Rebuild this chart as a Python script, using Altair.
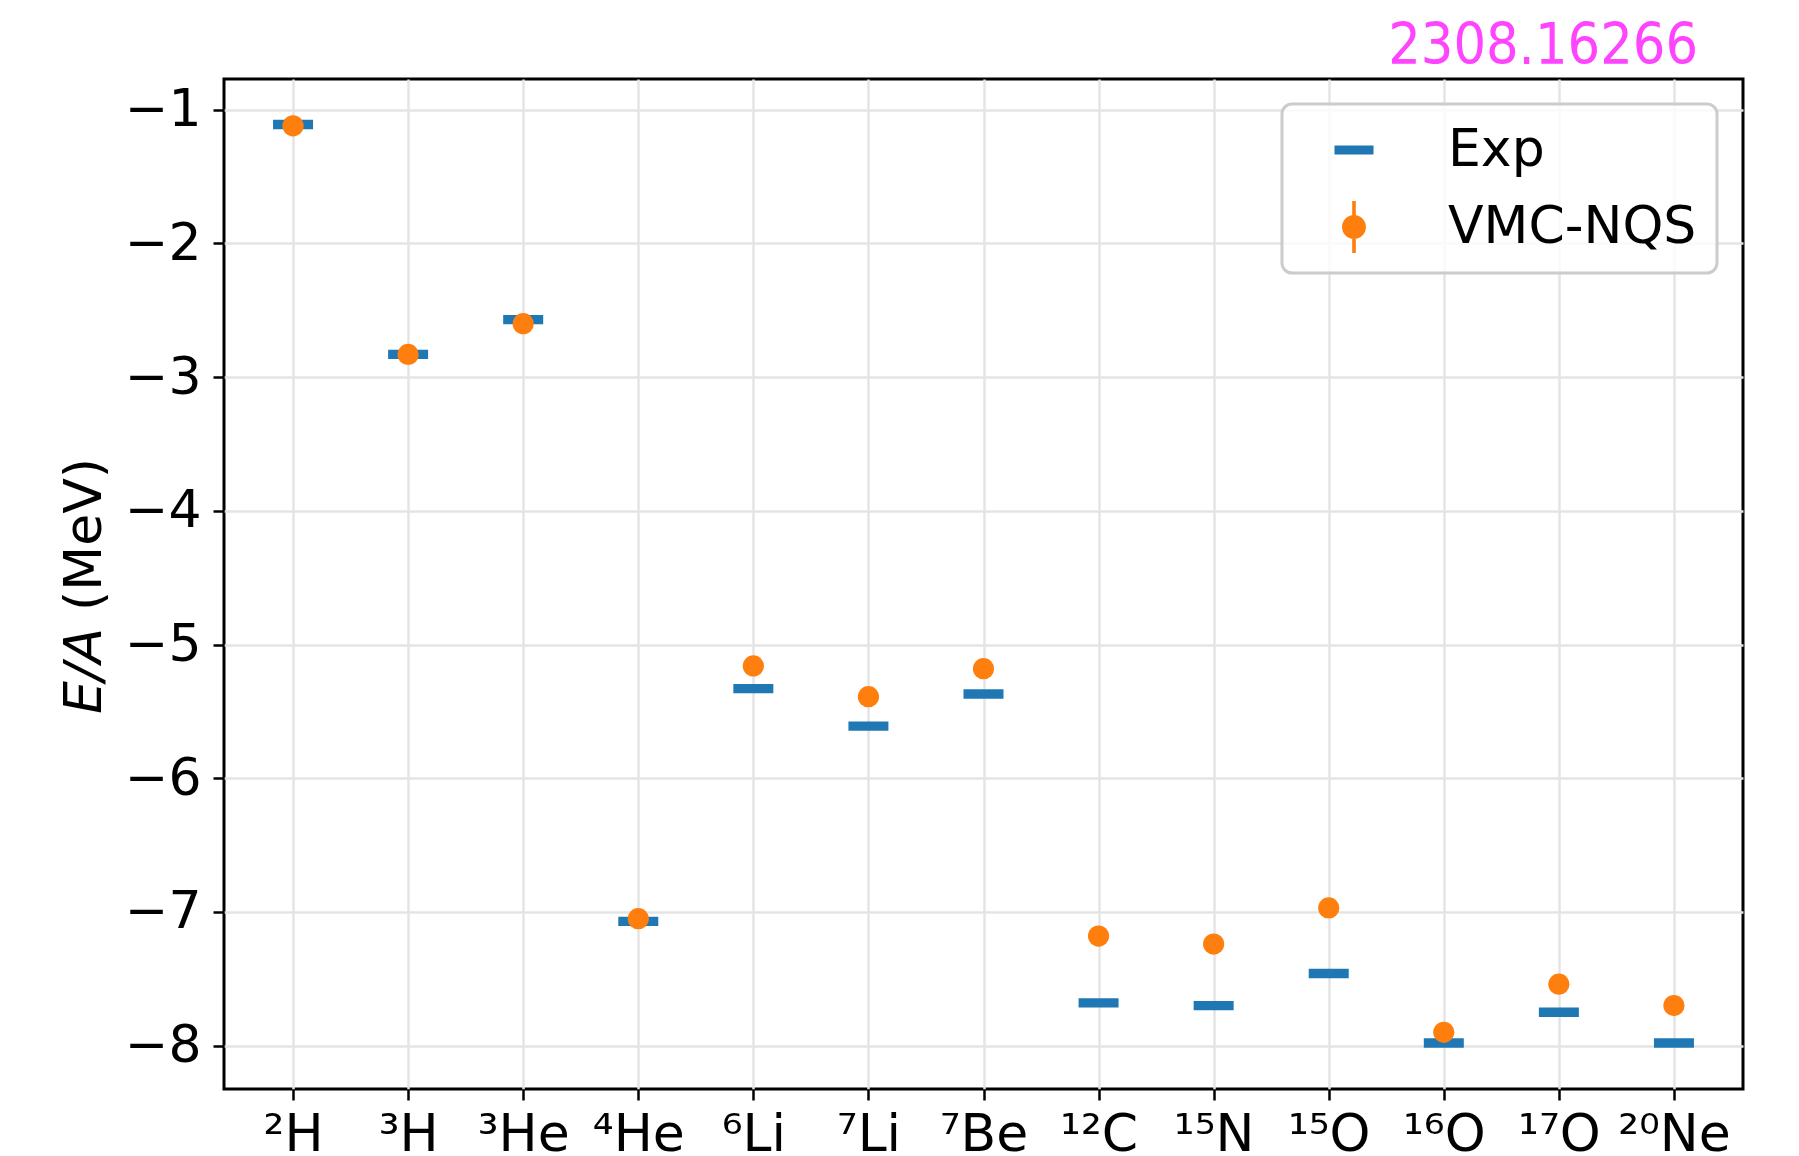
import altair as alt
import pandas as pd

# Nuclei along the x axis and energy per nucleon (MeV)
nuclei = ["²H", "³H", "³He", "⁴He", "⁶Li", "⁷Li", "⁷Be",
          "¹²C", "¹⁵N", "¹⁵O", "¹⁶O", "¹⁷O", "²⁰Ne"]
exp_energy = [-1.11, -2.83, -2.57, -7.07, -5.33, -5.61, -5.37,
              -7.68, -7.70, -7.46, -7.98, -7.75, -7.98]
vmc_energy = [-1.12, -2.83, -2.60, -7.05, -5.16, -5.39, -5.18,
              -7.18, -7.24, -6.97, -7.90, -7.54, -7.70]
series_names = ["Exp", "VMC-NQS"]
y_ticks = [-8, -7, -6, -5, -4, -3, -2, -1]

BLUE = "#1f77b4"
ORANGE = "#ff7f0e"
FONT = "DejaVu Sans"
FS = 52

# Marker paths in Vega's [-1, 1] symbol box
EXP_SHAPE = "M-0.75,-0.175H0.75V0.175H-0.75Z"
VMC_SHAPE = ("M-0.07,-1H0.07V1H-0.07Z "
             "M0,-0.46A0.46,0.46 0 1,1 0,0.46A0.46,0.46 0 1,1 0,-0.46Z")

df = pd.DataFrame({"nucleus": nuclei, "exp": exp_energy, "vmc": vmc_energy})

x_axis = alt.Axis(title=None, labelAngle=0, labelPadding=9, grid=True)
y_axis = alt.Axis(title=None, values=y_ticks, format="d", labelPadding=12, grid=True)
x_scale = alt.Scale(type="point", padding=0.6)
y_scale = alt.Scale(domain=[-8.324, -0.770], nice=False, zero=False)


def x_enc():
    return alt.X("nucleus:N", sort=nuclei, scale=x_scale, axis=x_axis)


def y_enc(field):
    return alt.Y(f"{field}:Q", scale=y_scale, axis=y_axis)


exp_layer = alt.Chart(df).mark_point(
    shape=EXP_SHAPE, filled=True, size=2844, color=BLUE, opacity=1, strokeWidth=0
).encode(x=x_enc(), y=y_enc("exp"))

vmc_layer = alt.Chart(df).mark_circle(
    size=450, color=ORANGE, opacity=1
).encode(x=x_enc(), y=y_enc("vmc"))

# Legend keys (kept outside the y domain and clipped, so only the legend shows)
legend_common = dict(
    title=None, orient="none", legendX=1058, legendY=25,
    padding=20, symbolSize=2704, symbolOffset=26, labelOffset=68,
    rowPadding=25, labelFontSize=FS, labelFont=FONT, labelColor="black",
    labelLimit=500, symbolStrokeWidth=0, strokeColor="#cccccc",
    fillColor="rgba(255,255,255,0.8)", cornerRadius=10,
)
legend_df = pd.DataFrame({"series": series_names,
                          "nucleus": [nuclei[0]] * 2,
                          "energy": [0.0, 0.0]})
legend_layer = alt.Chart(legend_df).mark_point(
    filled=True, clip=True, size=2704, opacity=1, strokeWidth=0
).encode(
    x=x_enc(),
    y=y_enc("energy"),
    color=alt.Color("series:N",
                    scale=alt.Scale(domain=series_names, range=[BLUE, ORANGE]),
                    legend=alt.Legend(**legend_common)),
    shape=alt.Shape("series:N",
                    scale=alt.Scale(domain=series_names, range=[EXP_SHAPE, VMC_SHAPE]),
                    legend=alt.Legend(**legend_common)),
)

# y-axis title: italic E/A followed by the unit
title_a = alt.Chart(pd.DataFrame({"t": ["E/A"]})).mark_text(
    angle=270, align="right", baseline="alphabetic", fontSize=FS,
    font=FONT, fontStyle="italic", color="black"
).encode(text="t:N", x=alt.value(-123), y=alt.value(549))

title_b = alt.Chart(pd.DataFrame({"t": ["(MeV)"]})).mark_text(
    angle=270, align="left", baseline="alphabetic", fontSize=FS,
    font=FONT, color="black"
).encode(text="t:N", x=alt.value(-123), y=alt.value(532))

stamp = alt.Chart(pd.DataFrame({"t": ["2308.16266"]})).mark_text(
    align="right", baseline="alphabetic", fontSize=57,
    font="DejaVu Sans Condensed, Liberation Sans Narrow, sans-serif",
    color="#ff44ff"
).encode(text="t:N", x=alt.value(1474), y=alt.value(-15))

chart = alt.layer(
    exp_layer, vmc_layer, legend_layer, title_a, title_b, stamp
).properties(
    width=1519, height=1010,
    padding={"left": 224, "top": 79, "right": 56, "bottom": 67},
    autosize=alt.AutoSizeParams(type="none"),
    background="white",
).configure_view(
    stroke="black", strokeWidth=3
).configure_axis(
    labelFont=FONT, labelFontSize=FS, labelColor="black",
    tickColor="black", tickWidth=2.5, tickSize=11,
    domain=False, gridColor="#e4e4e4", gridWidth=2.5,
).configure_legend(
    strokeWidth=3
)

chart.save("out.html", embed_options={"renderer": "svg", "actions": False})
